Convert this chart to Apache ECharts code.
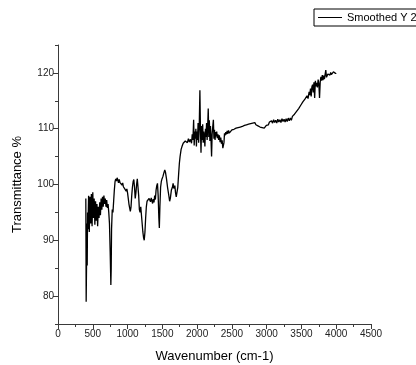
<!DOCTYPE html>
<html>
<head>
<meta charset="utf-8">
<script src="https://cdn.jsdelivr.net/npm/echarts@6/dist/echarts.min.js"></script>
<style>html,body{margin:0;padding:0;background:#fff}#c{width:416px;height:365px}</style>
</head>
<body>
<div id="c"></div>
<script>
var seriesName = 'Smoothed Y 2';
var xTickLabels = ['0','500','1000','1500','2000','2500','3000','3500','4000','4500'];
var yTickValues = [80, 90, 100, 110, 120];
var yMinorValues = [75, 85, 95, 105, 115, 125];

var wavenumbers = [
400,405,410,415,420,425,430,440,450,460,470,480,490,500,510,520,530,540,550,560,570,580,590,600,610,620,630,640,650,660,670,680,690,700,710,720,730,740,750,760,765,770,780,790,800,810,820,830,840,850,860,870,880,890,900,910,920,930,940,950,960,970,980,990,1000,1010,1020,1030,1040,1050,1060,1070,1080,1090,1100,1110,1120,1130,1140,1150,1160,1170,1180,1190,1200,1210,1220,1230,1240,1250,1260,1270,1280,1290,1300,1310,1320,1330,1340,1350,1360,1370,1380,1390,1400,1410,1420,1430,1440,1450,1457,1465,1475,1485,1495,1510,1520,1535,1545,1560,1575,1590,1605,1615,1630,1645,1655,1665,1680,1690,1700,1712,1722,1735,1745,1755,1770,1785,1800,1815,1830,1845,1860,1875,1890,1905,1920,1930,1940,1950,1958,1966,1974,1982,1990,1998,2006,2014,2022,2030,2040,2048,2056,2064,2072,2080,2088,2096,2104,2112,2120,2128,2136,2144,2152,2160,2168,2176,2184,2192,2200,2208,2216,2226,2234,2242,2250,2258,2266,2274,2282,2290,2300,2310,2320,2330,2340,2350,2360,2370,2378,2386,2394,2402,2412,2422,2432,2442,2452,2462,2472,2485,2500,2515,2530,2545,2560,2575,2590,2605,2620,2635,2650,2665,2680,2695,2710,2725,2740,2755,2770,2785,2800,2815,2830,2845,2860,2875,2890,2905,2920,2935,2950,2965,2980,2995,3010,3025,3040,3055,3070,3085,3100,3115,3130,3145,3160,3175,3190,3205,3220,3235,3250,3265,3280,3295,3310,3325,3340,3355,3370,3385,3400,3415,3430,3445,3460,3475,3490,3505,3520,3535,3550,3565,3580,3595,3610,3620,3630,3640,3650,3660,3670,3680,3690,3700,3710,3720,3730,3740,3750,3760,3770,3780,3790,3800,3810,3820,3830,3840,3850,3860,3870,3880,3890,3900,3910,3920,3930,3940,3950,3960,3970,3980,3990,4000
];
var transmittance = [
97.5,79,85,93,85.5,95,92,98,91.5,97.8,93,98.3,92.5,98.6,94,97.5,92.8,97,93.5,96.5,92.5,96,94,96.8,94.5,97.5,95.5,97.8,96,98,96.5,97.5,96,97.2,95.8,96.5,95,93,88,82,85,92,95.5,95,97,99,100.5,101,100.6,101.2,100.8,100.3,100.9,100.4,100.2,100.7,99.9,100.3,99.6,99.8,99.2,99.5,98.8,99.2,98.5,97.5,96.5,95.8,95.2,96,98,99.5,100.5,100.9,99.5,97.5,98.5,100,101,100.8,98,95.5,95,96,94.5,93,91.5,90.5,90,91.5,94,96,97,97.3,96.8,97.5,97.2,96.9,97.6,97.1,96.6,97.4,96.8,98,97.3,99,99.8,100.2,98,94,92.2,96,99.5,100.5,101,101.5,102,102.6,102.2,101,99.5,98.3,97,97.5,99,99.5,100.2,99.3,99.8,98.5,97.8,97.6,99.5,102,103.8,105,106.3,106.9,107.4,107.1,107.8,108,107.5,108.2,107.6,108.1,107.4,109,108,111.6,107,109.5,108.2,110,106.8,109.5,108,111,107.5,110,116.9,110,105.7,110.5,108,110.8,107.5,109.5,108.5,106.8,110,108.5,111,108,110.5,113.6,108.5,111.5,107.8,110.5,108,105,109,110.5,111.6,108.2,109.8,108,109.4,108.6,109.5,108.3,109,108,108.8,107.6,108.4,107.3,107.9,106.5,106.2,107.5,109.2,108.8,109.4,109,109.6,109.1,109.7,109.2,109.5,109.3,109.8,109.5,109.9,109.7,110.1,109.8,110.2,110,110.3,110.1,110.4,110.2,110.6,110.3,110.7,110.5,110.8,110.6,110.9,110.7,111,110.8,111.1,110.7,110.9,110.5,110.7,110.3,110.6,110.2,110.5,110.1,110.4,110.6,110.9,110.7,111.2,110.9,111.4,111,111.6,111.1,111.5,111,111.7,111.2,111.6,111.1,111.8,111.3,111.7,111.2,111.8,111.3,111.9,111.4,111.9,111.5,112.2,112,112.6,112.4,113.1,112.8,113.6,113.3,114.2,113.9,114.8,114.5,115.3,115,115.9,115.4,116.6,116,117.2,115.8,117.5,117.9,116.5,118.3,115.5,118.6,117.6,118.2,117.4,118.8,118.1,115.5,118.4,119.3,118.6,119.6,118.7,119.5,118.9,119.7,120.5,119.2,119.4,119.8,119.5,120,119.6,120.1,119.7,120,119.8,120.2,119.9,120.1,119.9,120
];

var points = wavenumbers.map(function (w, i) { return [w, transmittance[i]]; });
var font = 'Liberation Sans, Arial, sans-serif';
var axisColor = '#3a3a3a';
var chart = echarts.init(document.getElementById('c'), null, {renderer: 'canvas'});
chart.setOption({
  animation: false,
  backgroundColor: '#fff',
  grid: {left: 58, right: 45, top: 45, bottom: 41, containLabel: false, outerBoundsMode: 'none'},
  legend: {
    data: [seriesName],
    left: 314, top: 9,
    orient: 'horizontal',
    itemWidth: 24, itemHeight: 1, itemGap: 3,
    icon: 'rect',
    borderColor: '#000', borderWidth: 1, borderRadius: 0,
    padding: [3, 6, 3, 4],
    textStyle: {fontFamily: font, fontSize: 11, color: '#000'}
  },
  xAxis: {
    type: 'value', min: 0, max: 4500, interval: 500,
    name: 'Wavenumber (cm-1)', nameLocation: 'middle', nameGap: 26,
    nameTextStyle: {fontFamily: font, fontSize: 13, color: '#000'},
    axisLine: {show: true, onZero: false, lineStyle: {color: axisColor, width: 1}},
    axisTick: {show: true, inside: false, length: 5, lineStyle: {color: axisColor}},
    minorTick: {show: true, splitNumber: 2, length: 3, lineStyle: {color: axisColor}},
    axisLabel: {fontFamily: font, fontSize: 10, color: '#222', margin: 5,
      formatter: function (v) { return xTickLabels[Math.round(v / 500)]; }},
    splitLine: {show: false}, minorSplitLine: {show: false}
  },
  yAxis: [{
    type: 'value', min: 75, max: 125,
    name: 'Transmittance %', nameLocation: 'middle', nameGap: 34, nameRotate: 90,
    nameTextStyle: {fontFamily: font, fontSize: 13, color: '#000'},
    axisLine: {show: true, onZero: false, lineStyle: {color: axisColor, width: 1}},
    axisTick: {show: true, inside: false, length: 5, lineStyle: {color: axisColor}, customValues: yTickValues},
    axisLabel: {fontFamily: font, fontSize: 10, color: '#222', margin: 4, customValues: yTickValues},
    splitLine: {show: false}
  }, {
    type: 'value', min: 75, max: 125, position: 'left', offset: 0,
    axisLine: {show: true, onZero: false, lineStyle: {color: 'rgba(0,0,0,0)'}},
    axisTick: {show: true, inside: false, length: 3, lineStyle: {color: axisColor}, customValues: yMinorValues},
    axisLabel: {show: true, color: 'rgba(0,0,0,0)', customValues: yMinorValues, formatter: function () { return ''; }},
    splitLine: {show: false}
  }],
  series: [{
    name: seriesName, type: 'line', data: points,
    showSymbol: false, symbol: 'none', smooth: false,
    lineStyle: {color: '#000', width: 1.3},
    itemStyle: {color: '#000'}
  }]
});
</script>
</body>
</html>
